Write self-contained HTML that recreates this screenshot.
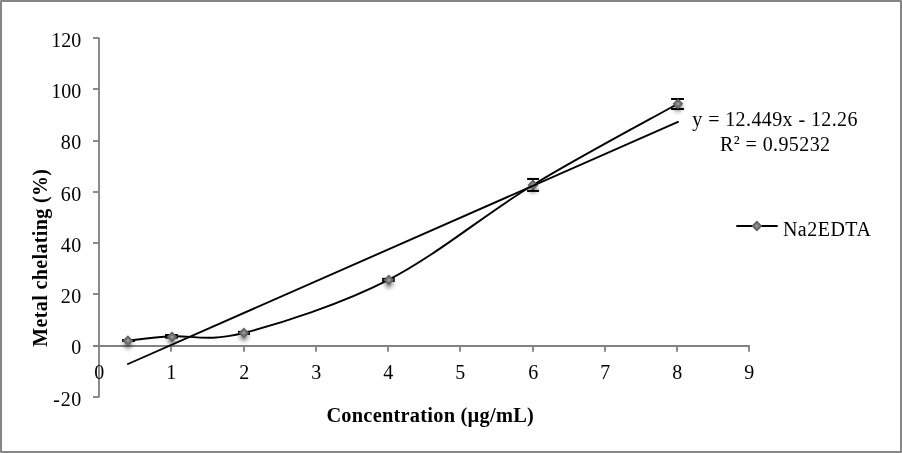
<!DOCTYPE html>
<html lang="en">
<head>
<meta charset="utf-8">
<title>Metal chelating chart</title>
<style>
html,body{margin:0;padding:0;background:#fff;}
body{width:902px;height:453px;overflow:hidden;position:relative;}
svg{position:absolute;left:0;top:0;display:block;}
text{font-family:"Liberation Serif",serif;fill:#000;white-space:pre;}
.tick{font-size:20px;}
.ttl{font-weight:bold;}
</style>
</head>
<body>
<svg width="902" height="453" viewBox="0 0 902 453">
<defs>
<radialGradient id="mg" cx="0.5" cy="0.5" r="0.5">
<stop offset="0" stop-color="#a6a6a6"/>
<stop offset="0.22" stop-color="#949494"/>
<stop offset="0.42" stop-color="#767676"/>
<stop offset="1" stop-color="#6a6a6a"/>
</radialGradient>
<filter id="sh" x="-1" y="-1" width="3" height="3">
<feGaussianBlur stdDeviation="2.1"/>
</filter>
</defs>
<rect x="0" y="0" width="902" height="453" fill="#fff"/>
<rect x="1" y="1" width="900" height="451" fill="none" stroke="#868686" stroke-width="2" stroke-linejoin="round"/>

<g stroke="#828282" stroke-width="1.85" fill="none">
<line x1="99" y1="37.8" x2="99" y2="397.2"/>
<line x1="93" y1="346" x2="749.9" y2="346"/>
<line x1="93" y1="38" x2="99" y2="38"/>
<line x1="93" y1="89" x2="99" y2="89"/>
<line x1="93" y1="141" x2="99" y2="141"/>
<line x1="93" y1="192" x2="99" y2="192"/>
<line x1="93" y1="243" x2="99" y2="243"/>
<line x1="93" y1="294" x2="99" y2="294"/>
<line x1="93" y1="397" x2="99" y2="397"/>
<line x1="171" y1="346" x2="171" y2="351.8"/>
<line x1="244" y1="346" x2="244" y2="351.8"/>
<line x1="316" y1="346" x2="316" y2="351.8"/>
<line x1="388" y1="346" x2="388" y2="351.8"/>
<line x1="460" y1="346" x2="460" y2="351.8"/>
<line x1="533" y1="346" x2="533" y2="351.8"/>
<line x1="605" y1="346" x2="605" y2="351.8"/>
<line x1="677" y1="346" x2="677" y2="351.8"/>
<line x1="749" y1="346" x2="749" y2="351.8"/>
</g>
<g class="tick">
<text x="51.30 61.30 71.30" y="46.90">120</text>
<text x="51.30 61.30 71.30" y="97.90">100</text>
<text x="60.70 71.30" y="148.90">80</text>
<text x="60.70 71.30" y="200.90">60</text>
<text x="60.70 71.30" y="251.90">40</text>
<text x="60.70 71.30" y="302.90">20</text>
<text x="71.30" y="353.90">0</text>
<text x="53.34 60.70 71.30" y="405.90">-20</text>
</g>
<g class="tick" text-anchor="middle">
<text x="99.25" y="379">0</text>
<text x="171.25" y="379">1</text>
<text x="244.25" y="379">2</text>
<text x="316.25" y="379">3</text>
<text x="388.25" y="379">4</text>
<text x="460.25" y="379">5</text>
<text x="533.25" y="379">6</text>
<text x="605.25" y="379">7</text>
<text x="677.25" y="379">8</text>
<text x="749.25" y="379">9</text>
</g>
<text id="xtitle" class="ttl" font-size="20.4" x="326.40" y="421.85" style="letter-spacing:0.240px">Concentration (µg/mL)</text>
<text id="ytitle" class="ttl" font-size="20" transform="translate(46.70,346.70) rotate(-90)" style="letter-spacing:0.370px">Metal chelating (%)</text>
<path d="M128.40,340.55 C135.60,339.84 152.33,337.59 171.60,336.31 C190.87,335.03 207.85,342.31 244.00,332.90 C280.15,323.49 340.33,304.50 388.50,279.84 C436.67,255.18 484.83,214.25 533.00,184.94 C581.17,155.63 653.42,117.47 677.50,103.98" fill="none" stroke="#000" stroke-width="1.9" stroke-linecap="butt" stroke-linejoin="round"/>
<path filter="url(#sh)" opacity="0.5" fill="#000" d="M122.81,344.24 L127.96,339.09 L133.11,344.24 L127.96,349.39Z"/>
<path filter="url(#sh)" opacity="0.5" fill="#000" d="M166.81,340.46 L171.96,335.31 L177.11,340.46 L171.96,345.61Z"/>
<path filter="url(#sh)" opacity="0.5" fill="#000" d="M238.70,336.50 L243.85,331.35 L249.00,336.50 L243.85,341.65Z"/>
<path filter="url(#sh)" opacity="0.5" fill="#000" d="M383.69,283.57 L388.84,278.42 L393.99,283.57 L388.84,288.72Z"/>
<path filter="url(#sh)" opacity="0.5" fill="#000" d="M527.81,188.54 L532.96,183.39 L538.11,188.54 L532.96,193.69Z"/>
<path filter="url(#sh)" opacity="0.5" fill="#000" d="M672.81,107.46 L677.96,102.31 L683.11,107.46 L677.96,112.61Z"/>
<g stroke="#000" stroke-width="2.05" fill="none"><line x1="128.53" y1="340.05" x2="128.53" y2="341.00"/><line x1="122.10" y1="340.05" x2="134.96" y2="340.05"/><line x1="122.10" y1="341.00" x2="134.96" y2="341.00"/></g>
<g stroke="#000" stroke-width="2.05" fill="none"><line x1="171.44" y1="335.00" x2="171.44" y2="337.62"/><line x1="165.08" y1="335.00" x2="177.80" y2="335.00"/><line x1="165.08" y1="337.62" x2="177.80" y2="337.62"/></g>
<g stroke="#000" stroke-width="2.05" fill="none"><line x1="244.00" y1="331.90" x2="244.00" y2="333.90"/><line x1="238.00" y1="331.90" x2="250.00" y2="331.90"/><line x1="238.00" y1="333.90" x2="250.00" y2="333.90"/></g>
<g stroke="#000" stroke-width="2.05" fill="none"><line x1="388.47" y1="278.85" x2="388.47" y2="280.85"/><line x1="382.10" y1="278.85" x2="394.83" y2="278.85"/><line x1="382.10" y1="280.85" x2="394.83" y2="280.85"/></g>
<g stroke="#000" stroke-width="2.05" fill="none"><line x1="533.02" y1="178.95" x2="533.02" y2="190.92"/><line x1="527.10" y1="178.95" x2="538.94" y2="178.95"/><line x1="527.10" y1="190.92" x2="538.94" y2="190.92"/></g>
<g stroke="#000" stroke-width="2.05" fill="none"><line x1="677.51" y1="99.00" x2="677.51" y2="108.97"/><line x1="671.08" y1="99.00" x2="683.94" y2="99.00"/><line x1="671.08" y1="108.97" x2="683.94" y2="108.97"/></g>
<path d="M123.41,340.64 L127.96,336.09 L132.51,340.64 L127.96,345.19Z" fill="url(#mg)" stroke="#626262" stroke-width="1.2" stroke-linejoin="miter"/>
<path d="M167.41,336.86 L171.96,332.31 L176.51,336.86 L171.96,341.41Z" fill="url(#mg)" stroke="#626262" stroke-width="1.2" stroke-linejoin="miter"/>
<path d="M239.30,332.90 L243.85,328.35 L248.40,332.90 L243.85,337.45Z" fill="url(#mg)" stroke="#626262" stroke-width="1.2" stroke-linejoin="miter"/>
<path d="M384.29,279.97 L388.84,275.42 L393.39,279.97 L388.84,284.52Z" fill="url(#mg)" stroke="#626262" stroke-width="1.2" stroke-linejoin="miter"/>
<path d="M528.41,184.94 L532.96,180.39 L537.51,184.94 L532.96,189.49Z" fill="url(#mg)" stroke="#626262" stroke-width="1.2" stroke-linejoin="miter"/>
<path d="M673.41,103.86 L677.96,99.31 L682.51,103.86 L677.96,108.41Z" fill="url(#mg)" stroke="#626262" stroke-width="1.2" stroke-linejoin="miter"/>
<line x1="128.00" y1="364.00" x2="678.00" y2="121.90" stroke="#000" stroke-width="1.9" stroke-linecap="round"/>
<text id="eq1" class="tick" x="692.35" y="125.90" style="letter-spacing:0.400px">y = 12.449x - 12.26</text>
<text id="eq2" class="tick" x="720.00" y="150.80" style="letter-spacing:0.400px">R<tspan dy="-1.5">²</tspan><tspan dy="1.5"> = 0.95232</tspan></text>
<line x1="737" y1="226.05" x2="777" y2="226.05" stroke="#000" stroke-width="1.9" stroke-linecap="round"/>
<path d="M752.30,226.00 L756.85,221.45 L761.40,226.00 L756.85,230.55Z" fill="url(#mg)" stroke="#626262" stroke-width="1.2" stroke-linejoin="miter"/>
<text id="legend" class="tick" x="782.90" y="235.50" style="letter-spacing:0.500px">Na2EDTA</text>
</svg>
</body>
</html>
